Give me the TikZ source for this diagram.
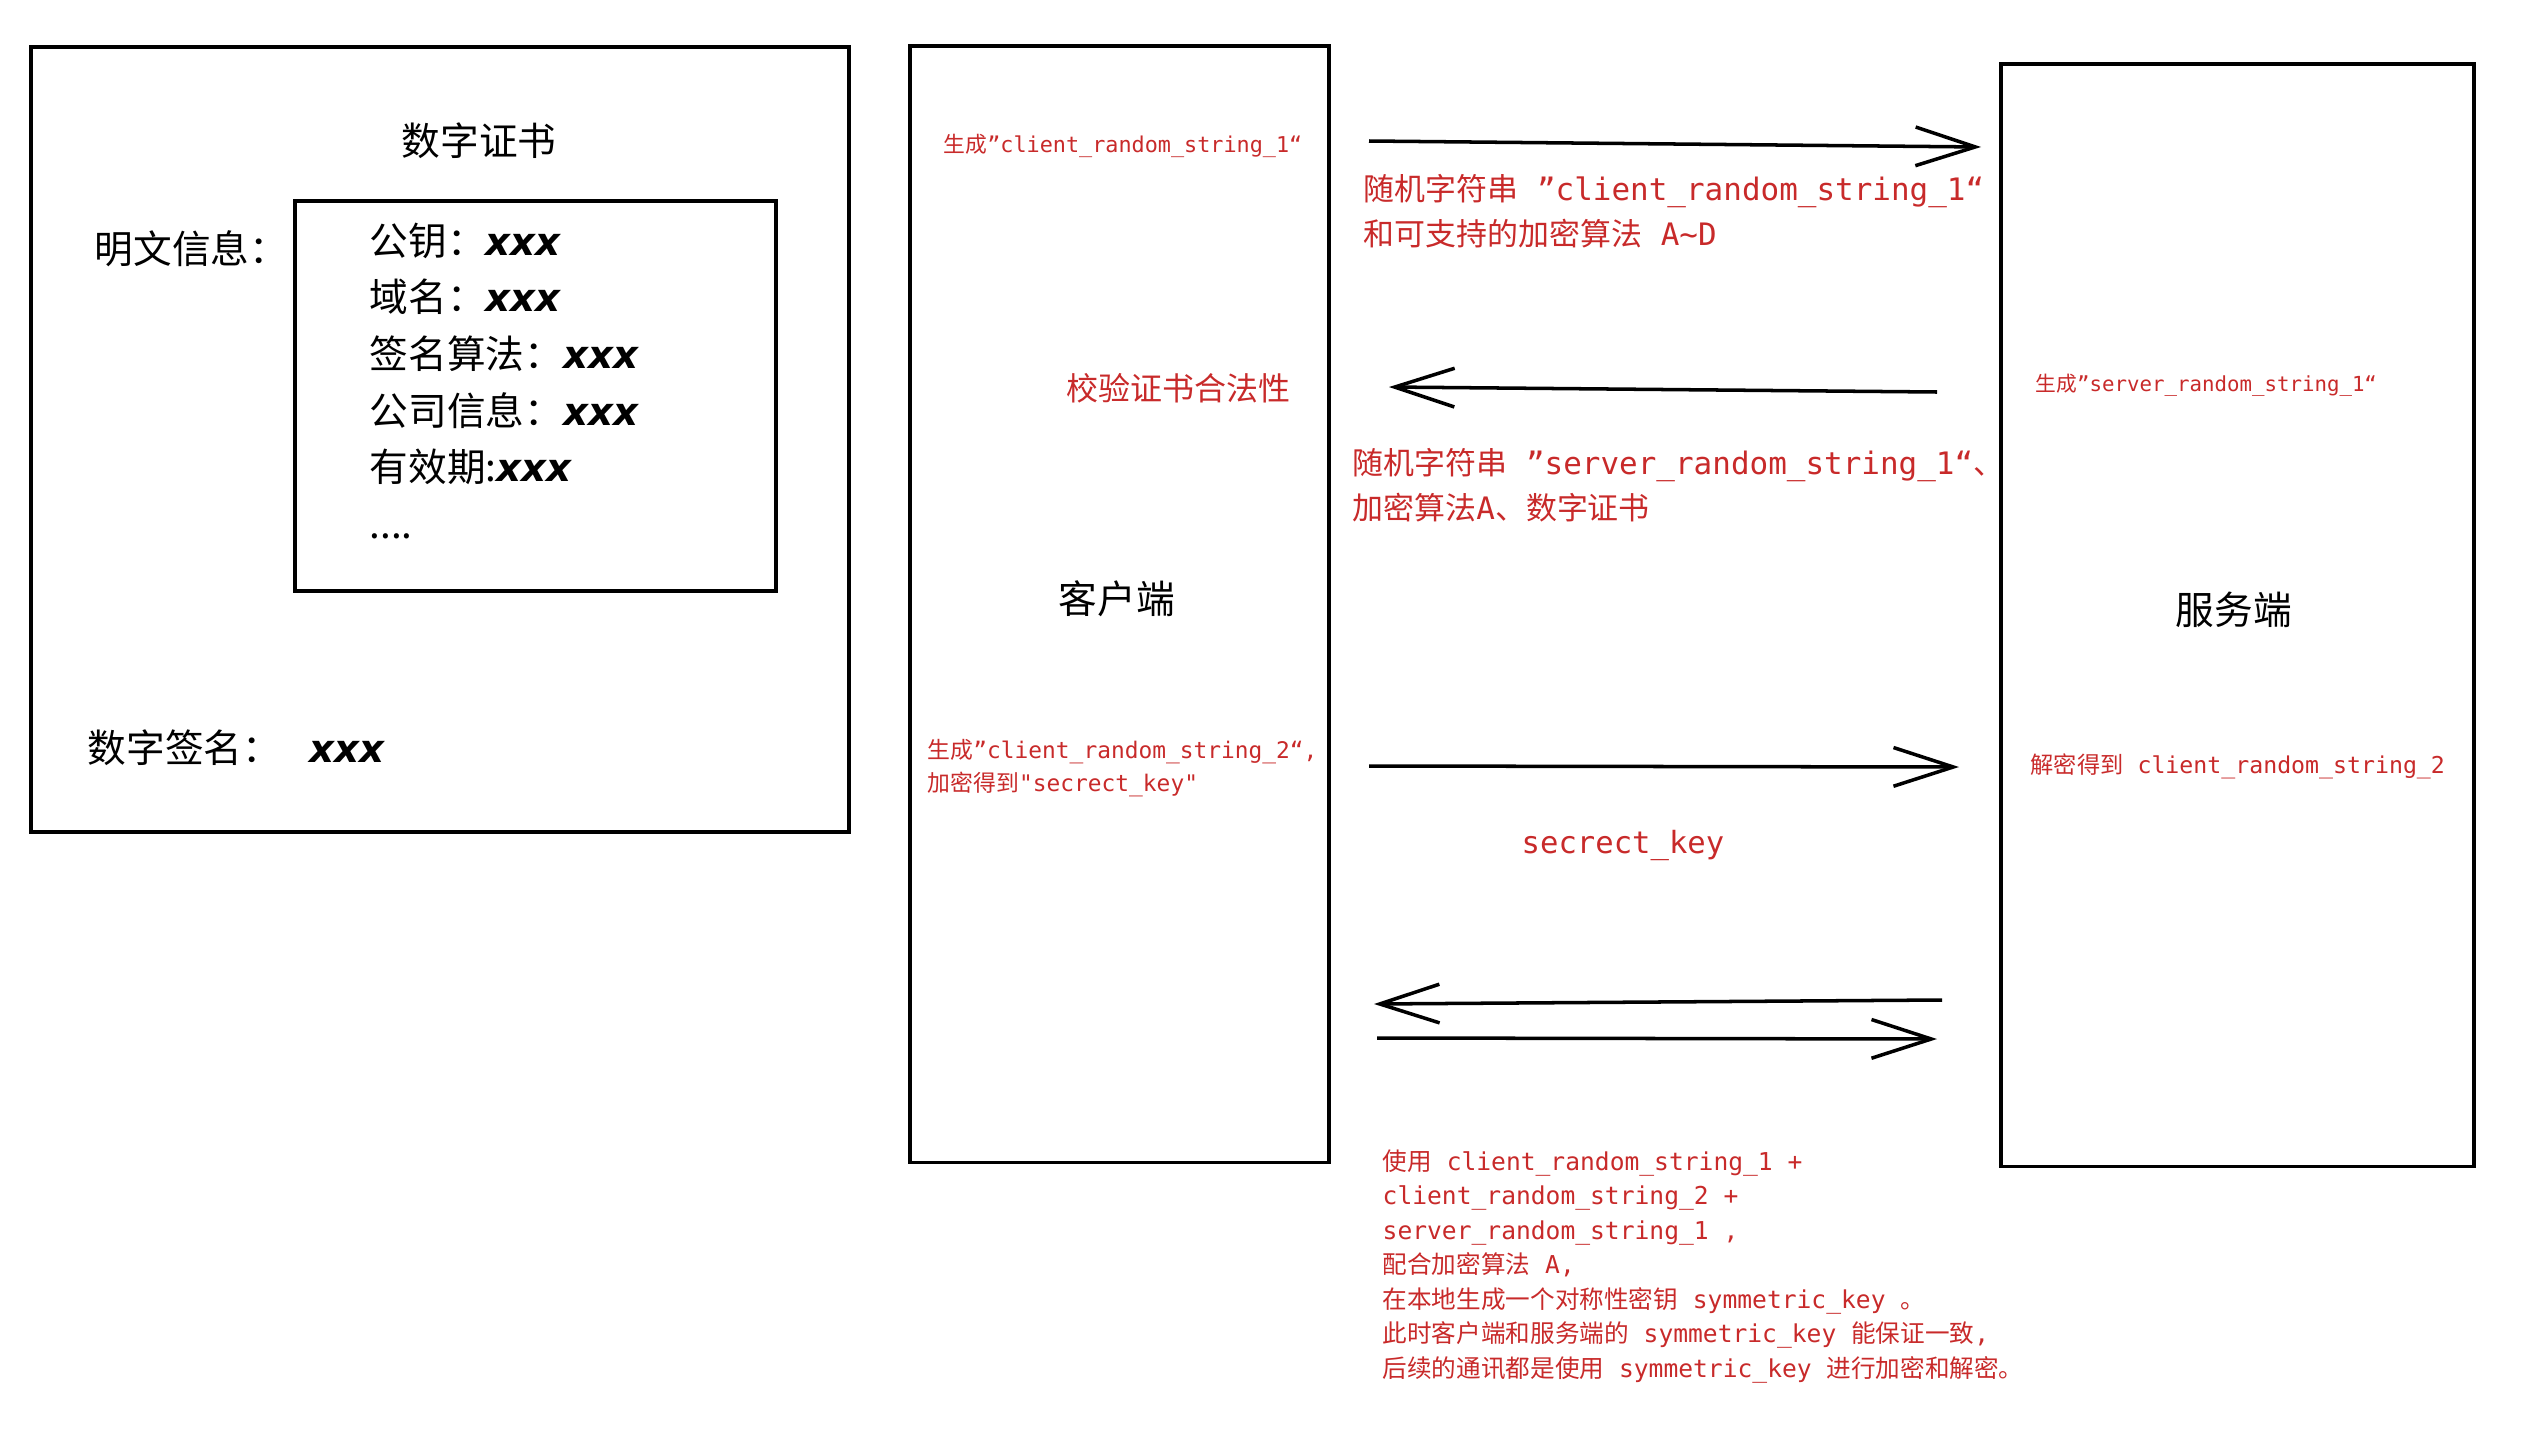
\documentclass[tikz,border=0pt]{standalone}
\usepackage{fontspec}
\usetikzlibrary{arrows.meta}
\newfontfamily\cjk{Noto Sans CJK SC}
\newfontfamily\mono{DejaVu Sans Mono}
\newfontfamily\xfont{DejaVu Sans}
\definecolor{txtred}{RGB}{200,42,42}
\newcommand\X[1]{{\xfont\bfseries\itshape #1}}
\newcommand\M[1]{{\mono #1}}
\newcommand\fs[2]{\fontsize{#1}{#2}\selectfont}
\tikzset{
  box/.style={draw, line width=1pt, inner sep=0pt, anchor=north west},
  txt/.style={inner sep=0pt, text=black},
  rtxt/.style={inner sep=0pt, text=txtred},
  msg/.style={line width=1pt, -{Straight Barb[length=17pt,width=11pt,line width=1pt]}}
}
\begin{document}
\begin{tikzpicture}[x=0.01cm, y=-0.01cm]
\useasboundingbox (0,0) rectangle (2538,1448);

% ---------------- certificate ----------------
\node[box, minimum width=8.18cm, minimum height=7.85cm] (cert) at (29,45) {};
\node[txt, font=\cjk\fs{11pt}{13pt}] (title) at (479,141) {数字证书};
\node[txt, anchor=west, font=\cjk\fs{11pt}{13pt}] (plain) at (94,249) {明文信息：};
\node[box, minimum width=4.81cm, minimum height=3.90cm] (inner) at (293,199) {};
\node[txt, anchor=north west, align=left, font=\cjk\fs{11pt}{16.1pt}] (fields) at (369,222)
  {公钥：\X{xxx}\\ 域名：\X{xxx}\\ 签名算法：\X{xxx}\\ 公司信息：\X{xxx}\\ 有效期:\X{xxx}\\ ....};
\node[txt, anchor=west, font=\cjk\fs{11pt}{13pt}] (sig) at (87,748) {数字签名：\hspace{8pt}\X{xxx}};

% ---------------- client ----------------
\node[box, minimum width=4.19cm, minimum height=11.16cm] (client) at (908,44) {};
\node[rtxt, font=\cjk\fs{6.2pt}{8pt}] (c1) at (1123,146) {生成\M{”client\_random\_string\_1“}};
\node[rtxt, font=\cjk\fs{9.1pt}{11pt}] (verify) at (1178,388) {校验证书合法性};
\node[txt, font=\cjk\fs{11pt}{13pt}] (clientlabel) at (1117,599) {客户端};
\node[rtxt, anchor=north west, align=left, font=\cjk\fs{6.5pt}{9.4pt}] (c2) at (927,739)
  {生成\M{”client\_random\_string\_2“,}\\ 加密得到\M{"secrect\_key"}};

% ---------------- server ----------------
\node[box, minimum width=4.73cm, minimum height=11.02cm] (server) at (1999,62) {};
\node[rtxt, anchor=west, font=\cjk\fs{5.9pt}{8pt}] (s1) at (2035,385) {生成\M{”server\_random\_string\_1“}};
\node[txt, font=\cjk\fs{11pt}{13pt}] (serverlabel) at (2234,610) {服务端};
\node[rtxt, anchor=west, font=\cjk\fs{6.6pt}{8pt}] (s2) at (2030,766) {解密得到\M{ client\_random\_string\_2}};

% ---------------- messages ----------------
\coordinate (a1s) at (1369,141); \coordinate (a1e) at (1981,147);
\coordinate (a2s) at (1937,392); \coordinate (a2e) at (1389,387);
\coordinate (a3s) at (1369,766); \coordinate (a3e) at (1959,767);
\coordinate (a4s) at (1942,1000); \coordinate (a4e) at (1374,1004);
\coordinate (a5s) at (1377,1038); \coordinate (a5e) at (1937,1039);
\draw[msg] (a1s) -- (a1e);
\draw[msg] (a2s) -- (a2e);
\draw[msg] (a3s) -- (a3e);
\draw[msg] (a4s) -- (a4e);
\draw[msg] (a5s) -- (a5e);

\node[rtxt, anchor=north west, align=left, font=\cjk\fs{8.8pt}{12.8pt}] (l1) at (1363,174)
  {随机字符串\M{ ”client\_random\_string\_1“}\\ 和可支持的加密算法\M{ A\textasciitilde D}};
\node[rtxt, anchor=north west, align=left, font=\cjk\fs{8.8pt}{12.8pt}] (l2) at (1352,448)
  {随机字符串\M{ ”server\_random\_string\_1“}、\\ 加密算法\M{A}、数字证书};
\node[rtxt, font=\mono\fs{8.7pt}{11pt}] (l3) at (1623,845) {secrect\_key};

\node[rtxt, anchor=north west, align=left, font=\cjk\fs{7pt}{9.8pt}] (note) at (1382,1149)
  {使用\M{ client\_random\_string\_1 +}\\
   \M{client\_random\_string\_2 +}\\
   \M{server\_random\_string\_1 ,}\\
   配合加密算法\M{ A,}\\
   在本地生成一个对称性密钥\M{ symmetric\_key }。\\
   此时客户端和服务端的\M{ symmetric\_key }能保证一致\M{,}\\
   后续的通讯都是使用\M{ symmetric\_key }进行加密和解密。};
\end{tikzpicture}
\end{document}
